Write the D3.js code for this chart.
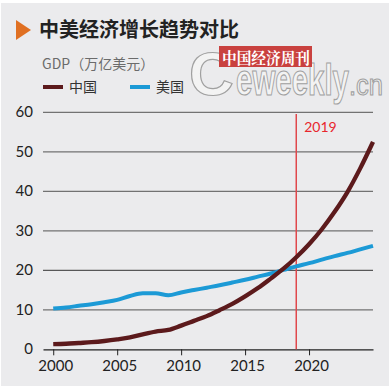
<!DOCTYPE html>
<html>
<head>
<meta charset="utf-8">
<script src="https://cdn.jsdelivr.net/npm/d3@7"></script>
<style>
  html, body { margin: 0; padding: 0; background: #fff; }
  svg { display: block; }
</style>
</head>
<body>
<div id="chart"></div>
<script>
// GDP data, trillion USD
const years = d3.range(2000, 2026);
const chinaGdp = [1.3, 1.4, 1.6, 1.8, 2.1, 2.5, 3.0, 3.8, 4.5, 4.9, 6.0, 7.2, 8.4, 9.9, 11.5, 13.4,
                  15.5, 17.9, 20.4, 23.3, 26.6, 30.4, 34.8, 39.8, 45.8, 52.5];
const usGdp = [10.3, 10.6, 11.0, 11.4, 11.9, 12.5, 13.5, 14.2, 14.2, 13.7, 14.4, 15.0, 15.6, 16.2, 16.9, 17.6,
               18.4, 19.2, 20.1, 21.0, 21.8, 22.7, 23.6, 24.4, 25.3, 26.2];
const yTicks = [0, 10, 20, 30, 40, 50, 60];
const xTicks = [2000, 2005, 2010, 2015, 2020];
const markYear = 2019;

const width = 389;
const height = 389;

const svg = d3.select("#chart")
  .append("svg")
  .attr("width", width)
  .attr("height", height);

// background with thin white border
svg.append("rect")
  .attr("x", 1).attr("y", 3)
  .attr("width", width - 1).attr("height", height - 6)
  .attr("fill", "#ebebed");

const x = d3.scaleLinear().domain([1999.2, 2025]).range([43, 373]);
const y = d3.scaleLinear().domain([0, 60]).range([349.3, 112.3]);

// title
svg.append("path")
  .attr("d", "M16,20 L31,30 L16,40 Z")
  .attr("fill", "#e07022");
svg.append("text")
  .attr("x", 39).attr("y", 37)
  .attr("font-family", "'Noto Sans CJK SC', sans-serif")
  .attr("font-weight", "bold")
  .attr("font-size", 20)
  .attr("fill", "#222")
  .text("中美经济增长趋势对比");

// watermark
const wm = svg.append("g")
  .attr("font-family", "'Liberation Sans', Arial, sans-serif")
  .attr("fill", "#f3f3f3")
  .attr("stroke", "#a0a0a0")
  .attr("stroke-width", 1.2);
wm.append("text").attr("x", 189).attr("y", 95)
  .attr("font-weight", "bold").attr("font-size", 62).text("C");
wm.append("text").attr("x", 236).attr("y", 95)
  .attr("font-weight", "bold").attr("font-size", 44)
  .attr("textLength", 113).attr("lengthAdjust", "spacingAndGlyphs")
  .text("eweekly");
wm.append("text").attr("x", 349).attr("y", 95)
  .attr("font-size", 30)
  .attr("textLength", 34).attr("lengthAdjust", "spacingAndGlyphs")
  .text(".cn");
svg.append("rect")
  .attr("x", 219).attr("y", 46).attr("width", 93).attr("height", 21)
  .attr("fill", "#c9413f");
svg.append("text")
  .attr("x", 222).attr("y", 64)
  .attr("font-family", "'Noto Serif CJK SC', 'Noto Sans CJK SC', serif")
  .attr("font-weight", "bold")
  .attr("font-size", 16)
  .attr("textLength", 88).attr("lengthAdjust", "spacingAndGlyphs")
  .attr("fill", "#fff")
  .text("中国经济周刊");

// unit + legend
svg.append("text")
  .attr("x", 42).attr("y", 69)
  .attr("font-family", "'Noto Sans CJK SC', sans-serif")
  .attr("font-size", 14)
  .attr("fill", "#6b6b6b")
  .text("GDP（万亿美元）");

const legend = [
  {name: "中国", color: "#5c1a1c", x: 43},
  {name: "美国", color: "#1c9ad6", x: 130}
];
legend.forEach(d => {
  svg.append("line")
    .attr("x1", d.x).attr("x2", d.x + 20)
    .attr("y1", 87).attr("y2", 87)
    .attr("stroke", d.color).attr("stroke-width", 4);
  svg.append("text")
    .attr("x", d.x + 26).attr("y", 92)
    .attr("font-family", "'Noto Sans CJK SC', sans-serif")
    .attr("font-size", 14)
    .attr("fill", "#333")
    .text(d.name);
});

// grid
svg.selectAll(".grid")
  .data(yTicks.filter(t => t > 0))
  .enter()
  .append("line")
    .attr("x1", 43).attr("x2", 373)
    .attr("y1", d => y(d)).attr("y2", d => y(d))
    .attr("stroke", d => d === 20 ? "#333" : "#727272")
    .attr("stroke-width", d => d === 20 ? 1 : 1.3);

// y labels
svg.selectAll(".ylab")
  .data(yTicks)
  .enter()
  .append("text")
    .attr("x", 33)
    .attr("y", d => y(d) + 5)
    .attr("text-anchor", "end")
    .attr("font-family", "Lato, 'Open Sans', sans-serif")
    .attr("font-size", 15)
    .attr("fill", "#222")
    .text(d => d);

// x axis
const xAxis = svg.append("g")
  .attr("transform", `translate(0,${y(0)})`)
  .call(d3.axisBottom(x).tickValues(xTicks).tickSize(6).tickSizeOuter(0).tickPadding(5)
    .tickFormat(d3.format("d")));
xAxis.select(".domain").attr("stroke", "#222").attr("stroke-width", 1.2);
xAxis.selectAll(".tick line").attr("stroke", "#222");
xAxis.selectAll(".tick text")
  .attr("font-family", "Lato, 'Open Sans', sans-serif")
  .attr("font-size", 15)
  .attr("fill", "#222")
  .attr("dx", 2);

// 2019 marker
svg.append("line")
  .attr("x1", x(markYear)).attr("x2", x(markYear))
  .attr("y1", 114).attr("y2", y(0))
  .attr("stroke", "#e0474c")
  .attr("stroke-width", 1.5);
svg.append("text")
  .attr("x", x(markYear) + 8).attr("y", 132)
  .attr("font-family", "Lato, 'Open Sans', sans-serif")
  .attr("font-size", 14)
  .attr("fill", "#e8262d")
  .text(markYear);

// lines
const line = d3.line()
  .x(d => x(d[0]))
  .y(d => y(d[1]))
  .curve(d3.curveMonotoneX);

svg.append("path")
  .datum(years.map((yr, i) => [yr, usGdp[i]]))
  .attr("d", line)
  .attr("fill", "none")
  .attr("stroke", "#1c9ad6")
  .attr("stroke-width", 4);

svg.append("path")
  .datum(years.map((yr, i) => [yr, chinaGdp[i]]))
  .attr("d", line)
  .attr("fill", "none")
  .attr("stroke", "#5c1a1c")
  .attr("stroke-width", 4.3);
</script>
</body>
</html>
